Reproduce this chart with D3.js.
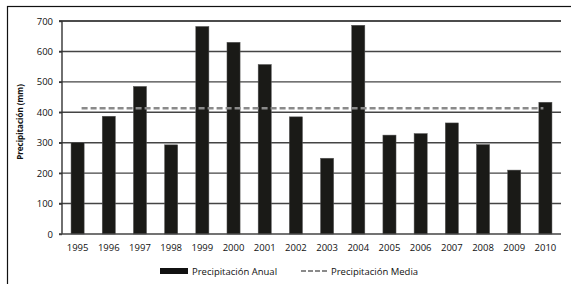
<!DOCTYPE html>
<html>
<head>
<meta charset="utf-8">
<script src="https://cdn.jsdelivr.net/npm/d3@7/dist/d3.min.js"></script>
<style>
  body { margin: 0; background: #fff; }
  text { font-family: "Open Sans", "Noto Sans", sans-serif; fill: #111; }
</style>
</head>
<body>
<div id="chart"></div>
<script>
// data
const years = ["1995","1996","1997","1998","1999","2000","2001","2002",
               "2003","2004","2005","2006","2007","2008","2009","2010"];
const annual = [300, 387, 485, 293, 682, 630, 557, 385,
                249, 686, 325, 330, 365, 294, 210, 433];
const yTicks = [0, 100, 200, 300, 400, 500, 600, 700];
const meanValue = d3.mean(annual);

const W = 571, H = 284;
const margin = {top: 21, right: 10, bottom: 50, left: 62};
const width = 561 - margin.left;
const height = 234 - margin.top;

const svg = d3.select("#chart").append("svg")
    .attr("width", W).attr("height", H);

// outer frame (runs off right and bottom edges)
svg.append("rect")
    .attr("x", 7.5).attr("y", 6.5)
    .attr("width", W).attr("height", H)
    .attr("fill", "none").attr("stroke", "#111").attr("stroke-width", 1.2);

const g = svg.append("g")
    .attr("transform", `translate(${margin.left},${margin.top})`);

const x = d3.scaleBand().domain(years).range([0, width]).paddingInner(0.58).paddingOuter(0.29);
const y = d3.scaleLinear().domain([0, 700]).range([height, 0]);

// gridlines
g.selectAll(".grid").data(yTicks.slice(1)).join("line")
    .attr("x1", -3).attr("x2", width)
    .attr("y1", d => y(d)).attr("y2", d => y(d))
    .attr("stroke", d => d === 700 ? "#111" : "#444")
    .attr("stroke-width", 1.4);

// bars
g.selectAll(".bar").data(annual).join("rect")
    .attr("x", (d, i) => x(years[i]))
    .attr("y", d => y(d))
    .attr("width", x.bandwidth())
    .attr("height", d => height - y(d))
    .attr("fill", "#1a1a17")
    .attr("stroke", "#555").attr("stroke-width", 0.5);

// mean line
const cx = d => x(d) + x.bandwidth() / 2;
g.append("line")
    .attr("x1", cx(years[0]) + 4).attr("x2", cx(years[years.length - 1]) - 2)
    .attr("y1", y(meanValue)).attr("y2", y(meanValue))
    .attr("stroke", "#8a8a8a").attr("stroke-width", 2.6)
    .attr("stroke-dasharray", "6,3");

// y axis
const yAxis = g.append("g").call(d3.axisLeft(y).tickValues(yTicks).tickSize(3).tickPadding(6));
yAxis.select(".domain").attr("stroke", "#333").attr("stroke-width", 1.4).attr("d", `M0,${height}V0`);
yAxis.selectAll(".tick line").attr("stroke", "#333").attr("stroke-width", 1.4);
yAxis.selectAll("text").style("font-size", "9.5px").attr("fill", "#111");

// x axis
g.append("line")
    .attr("x1", -3).attr("x2", width).attr("y1", height).attr("y2", height)
    .attr("stroke", "#444").attr("stroke-width", 1.4);
g.selectAll(".xl").data(years).join("text")
    .attr("x", d => cx(d))
    .attr("y", height + 17)
    .attr("text-anchor", "middle")
    .style("font-size", "9.5px")
    .text(d => d);

// y title
svg.append("text")
    .attr("transform", "translate(23,122) rotate(-90)")
    .attr("text-anchor", "middle")
    .style("font-size", "8px").style("font-weight", "bold")
    .text("Precipitación (mm)");

// legend
const leg = svg.append("g");
leg.append("rect").attr("x", 160).attr("y", 268).attr("width", 28).attr("height", 6).attr("fill", "#111");
leg.append("text").attr("x", 192).attr("y", 274.5).style("font-size", "9.5px").text("Precipitación Anual");
leg.append("line").attr("x1", 301).attr("x2", 327).attr("y1", 271).attr("y2", 271)
    .attr("stroke", "#8a8a8a").attr("stroke-width", 2.2).attr("stroke-dasharray", "5,2");
leg.append("text").attr("x", 331).attr("y", 274.5).style("font-size", "9.5px").text("Precipitación Media");
</script>
</body>
</html>
